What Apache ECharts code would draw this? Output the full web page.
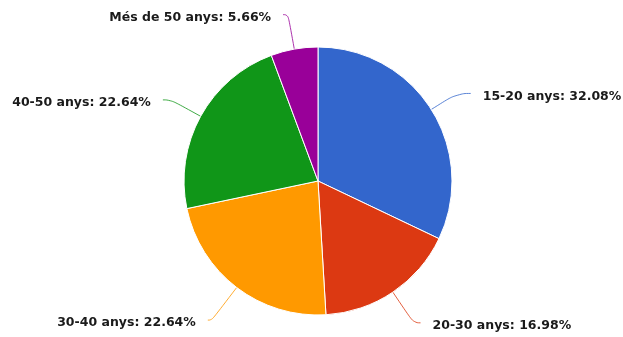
<!DOCTYPE html>
<html><head><meta charset="utf-8">
<script src="https://cdn.jsdelivr.net/npm/echarts@6/dist/echarts.min.js"></script>
<style>html,body{margin:0;padding:0;background:#fff}#c{width:623px;height:337px}</style>
</head><body><div id="c"></div>
<script>
const categories = ['15-20 anys', '20-30 anys', '30-40 anys', '40-50 anys', 'Més de 50 anys'];
const values = [17, 9, 12, 12, 3];
const colors = ['#3366cc', '#dc3912', '#ff9900', '#109618', '#990099'];

// label line styling per slice (layout only)
const lineLen = [30, 37, 41, 34, 35];
const lineLen2 = [14, 7, 4, 8, 5];

const chart = echarts.init(document.getElementById('c'));
const total = values.reduce((a, b) => a + b, 0);
chart.setOption({
  animation: false,
  color: colors,
  series: [{
    type: 'pie',
    center: [318, 181],
    radius: 134,
    startAngle: 90,
    clockwise: true,
    avoidLabelOverlap: false,
    itemStyle: { borderColor: '#fff', borderWidth: 1 },
    label: {
      formatter: p => p.name + ': ' + (p.value / total * 100).toFixed(2) + '%',
      color: '#1a1a1a',
      fontFamily: 'DejaVu Sans',
      fontWeight: 'bold',
      fontSize: 12.5,
      distanceToLabelLine: 12,
      rich: { t: {} }
    },
    labelLayout: { dy: 3 },
    labelLine: { smooth: 0.5, lineStyle: { width: 1, opacity: 0.8 } },
    data: categories.map((c, i) => ({
      name: c,
      value: values[i],
      labelLine: { length: lineLen[i], length2: lineLen2[i] }
    }))
  }]
});
</script></body></html>
